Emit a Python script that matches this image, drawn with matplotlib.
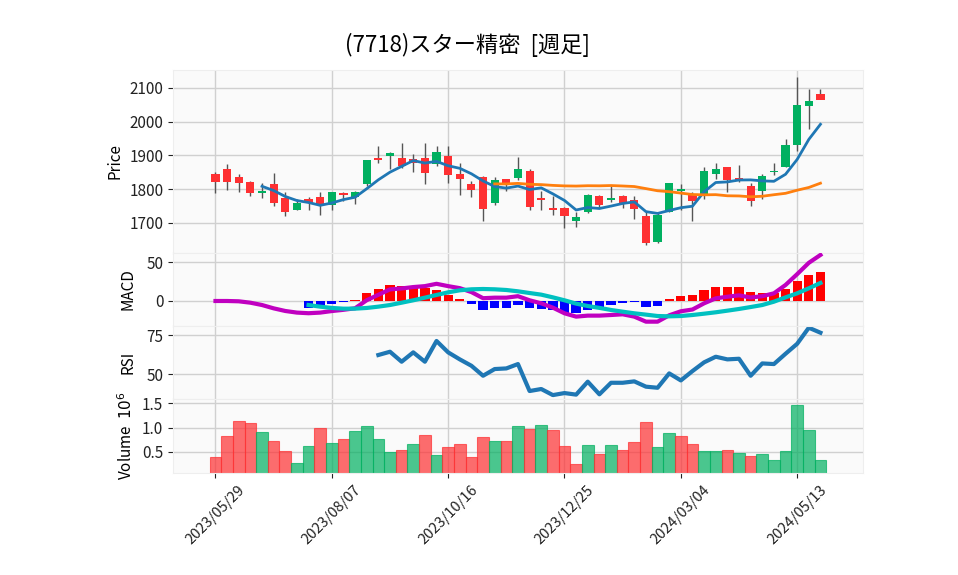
import matplotlib
matplotlib.use("Agg")
import matplotlib.pyplot as plt
import numpy as np
import pandas as pd

plt.rcParams['font.family'] = ['Noto Sans CJK JP', 'DejaVu Sans']

title = "(7718)スター精密  [週足]"

# weekly bars, 2023/05/29 .. 2024/05/27
dates = pd.date_range("2023-05-29", periods=53, freq="7D")

opens = [1845, 1860, 1837, 1820, 1788, 1814, 1775, 1739, 1772, 1778,
         1753, 1790, 1776, 1815, 1891, 1898, 1891, 1888, 1893, 1874,
         1899, 1845, 1816, 1836, 1760, 1831, 1833, 1855, 1775, 1744,
         1744, 1705, 1732, 1781, 1767, 1781, 1769, 1722, 1643, 1732,
         1796, 1786, 1779, 1844, 1867, 1834, 1808, 1794, 1851, 1865,
         1930, 2046, 2082]
highs = [1852, 1875, 1845, 1823, 1818, 1848, 1792, 1770, 1778, 1792,
         1793, 1792, 1796, 1887, 1928, 1910, 1936, 1905, 1936, 1928,
         1928, 1878, 1825, 1839, 1837, 1831, 1895, 1859, 1794, 1781,
         1747, 1731, 1786, 1784, 1809, 1784, 1779, 1732, 1732, 1819,
         1816, 1793, 1865, 1877, 1867, 1872, 1818, 1845, 1878, 1949,
         2132, 2097, 2097]
lows = [1789, 1798, 1792, 1780, 1774, 1751, 1721, 1737, 1737, 1725,
        1739, 1766, 1757, 1808, 1877, 1859, 1864, 1850, 1816, 1870,
        1818, 1783, 1776, 1707, 1752, 1794, 1828, 1739, 1739, 1724,
        1685, 1687, 1729, 1747, 1761, 1745, 1712, 1636, 1640, 1732,
        1737, 1707, 1772, 1830, 1791, 1822, 1749, 1771, 1841, 1865,
        1912, 1979, 2075]
closes = [1821, 1820, 1818, 1788, 1796, 1758, 1732, 1758, 1759, 1754,
          1793, 1782, 1793, 1885, 1886, 1906, 1868, 1879, 1848, 1911,
          1841, 1830, 1798, 1742, 1828, 1818, 1860, 1747, 1767, 1739,
          1720, 1719, 1784, 1752, 1775, 1759, 1742, 1640, 1725, 1819,
          1800, 1764, 1855, 1861, 1828, 1828, 1766, 1840, 1855, 1932,
          2048, 2062, 2064]
# volume in millions of shares
volumes = [0.40, 0.83, 1.13, 1.10, 0.90, 0.73, 0.52, 0.27, 0.625, 1.00,
           0.69, 0.77, 0.92, 1.04, 0.77, 0.50, 0.54, 0.67, 0.85, 0.43,
           0.59, 0.67, 0.40, 0.81, 0.72, 0.73, 1.04, 0.98, 1.06, 0.94,
           0.625, 0.25, 0.646, 0.458, 0.646, 0.54, 0.71, 1.125, 0.604, 0.896,
           0.833, 0.667, 0.52, 0.52, 0.54, 0.48, 0.417, 0.458, 0.34, 0.52,
           1.458, 0.94, 0.34]

macd = [0.0, 0.0, -0.4, -2.2, -5.2, -9.5, -12.9, -15.0, -15.8, -15.0,
        -13.0, -11.4, -9.4, 1.0, 8.0, 15.0, 16.2, 18.0, 19.2, 22.2,
        19.2, 16.6, 11.5, 3.6, 4.3, 4.3, 6.2, 0.9, -3.0, -8.6,
        -15.9, -20.2, -18.9, -18.9, -18.1, -17.2, -20.2, -26.7, -26.7, -18.5,
        -13.3, -11.0, -3.0, 3.4, 5.5, 7.3, 4.5, 6.2, 9.9, 20.7,
        34.7, 49.3, 59.5]
signal = [np.nan] * 8 + [
    -5.2, -7.3, -9.0, -9.9, -9.9, -9.0, -7.3, -5.2, -2.2, 0.9,
    4.3, 7.8, 11.2, 13.8, 15.1, 15.5, 15.1, 14.2, 12.5, 10.3,
    8.2, 4.7, 0.9, -3.4, -6.5, -8.9, -11.6, -13.8, -15.9, -17.6,
    -19.4, -19.8, -19.4, -18.1, -16.4, -14.6, -12.5, -10.3, -7.8, -5.2,
    -0.9, 4.7, 9.9, 16.4, 23.3]
hist = [np.nan] * 8 + [
    -8.6, -6.0, -3.4, -0.9, 1.7, 10.3, 15.5, 20.7, 19.4, 18.0,
    16.4, 14.6, 7.8, 3.0, -3.4, -11.2, -9.5, -8.6, -5.2, -9.5,
    -10.3, -11.6, -15.0, -15.0, -11.0, -7.3, -5.2, -3.0, -1.3, -7.3,
    -6.0, 3.0, 6.5, 7.8, 14.6, 18.0, 18.0, 18.0, 11.6, 10.8,
    10.8, 15.9, 25.8, 33.6, 37.9]
rsi = [np.nan] * 14 + [
    62.2, 64.3, 57.9, 63.9, 57.9, 71.2, 63.9, 59.4, 55.3, 48.9,
    53.2, 53.6, 56.4, 39.1, 40.4, 36.5, 37.8, 36.8, 45.1, 37.0,
    44.4, 44.4, 45.3, 41.9, 41.2, 50.4, 45.9, 51.9, 57.5, 61.1,
    59.4, 59.8, 48.9, 56.8, 56.4, 63.0, 69.4, 79.7, 76.5]

up_col = '#00b060'
down_col = '#fe3032'
bg = '#fafafa'
grid_col = '#d0d0d0'

x = np.arange(len(dates))
o = np.array(opens)
c = np.array(closes)
ma5 = pd.Series(c).rolling(5).mean()
ma25 = pd.Series(c).rolling(25).mean()

fig = plt.figure(figsize=(9.58, 5.75), dpi=100)
gs = fig.add_gridspec(4, 1, height_ratios=[182.7, 73, 73.3, 74], hspace=0,
                      left=0.1806, right=0.9005, top=0.8783, bottom=0.1774)
ax_p = fig.add_subplot(gs[0])
ax_m = fig.add_subplot(gs[1], sharex=ax_p)
ax_r = fig.add_subplot(gs[2], sharex=ax_p)
ax_v = fig.add_subplot(gs[3], sharex=ax_p)

for ax in (ax_p, ax_m, ax_r, ax_v):
    ax.set_facecolor(bg)
    ax.grid(True, color=grid_col, lw=1)
    ax.set_axisbelow(True)
    for s in ax.spines.values():
        s.set_color('#eeeeee')
    ax.tick_params(labelsize=11, colors='#222222')

# candles
cols = [up_col if cc >= oo else down_col for oo, cc in zip(o, c)]
ax_p.vlines(x, lows, highs, color='#555555', lw=1, zorder=2)
ax_p.bar(x, c - o, bottom=o, width=0.7, color=cols, zorder=3)
ax_p.plot(x, ma5, color='#1f77b4', lw=2, zorder=4)
ax_p.plot(x, ma25, color='#ff7f0e', lw=2, zorder=4)
ax_p.set_ylim(1612, 2153)
ax_p.set_yticks([1700, 1800, 1900, 2000, 2100])
ax_p.set_ylabel('Price', fontsize=11)

# MACD
h = np.array(hist)
hcols = ['red' if v >= 0 else 'blue' for v in np.nan_to_num(h)]
ax_m.bar(x, h, width=0.8, color=hcols, zorder=2)
ax_m.plot(x, macd, color='#c000c0', lw=3, zorder=3)
ax_m.plot(x, signal, color='#00c0c0', lw=3, zorder=3)
ax_m.set_ylim(-31.9, 62.4)
ax_m.set_yticks([0, 50])
ax_m.set_ylabel('MACD', fontsize=11)

# RSI
ax_r.plot(x, rsi, color='#1f77b4', lw=3)
ax_r.set_ylim(34, 81)
ax_r.set_yticks([50, 75])
ax_r.set_ylabel('RSI', fontsize=11)

# volume, coloured by close vs previous close
vcols = [up_col if (i == 0 and c[i] >= o[i]) or (i > 0 and c[i] >= c[i - 1]) else down_col
         for i in range(len(c))]
ax_v.bar(x, volumes, width=1.0, color=vcols, alpha=0.7, edgecolor=vcols, lw=0.8)
ax_v.set_ylim(0.063, 1.59)
ax_v.set_yticks([0.5, 1.0, 1.5])
ax_v.set_yticklabels(['0.5', '1.0', '1.5'])
ax_v.set_ylabel('Volume  $10^{6}$', fontsize=11)

for ax in (ax_p, ax_m, ax_r):
    ax.tick_params(axis='x', bottom=False, labelbottom=False)

ticks = [0, 10, 20, 30, 40, 50]
ax_v.set_xticks(ticks)
ax_v.set_xticklabels([dates[t].strftime('%Y/%m/%d') for t in ticks], rotation=45, ha='center')
ax_v.tick_params(axis='x', labelsize=10.5)
ax_v.set_xlim(-3.65, 55.63)

fig.align_ylabels([ax_m, ax_r, ax_v])
fig.text(0.4885, 0.922, title, ha='center', va='center', fontsize=16)

fig.savefig('out.png', dpi=100, facecolor='white')
